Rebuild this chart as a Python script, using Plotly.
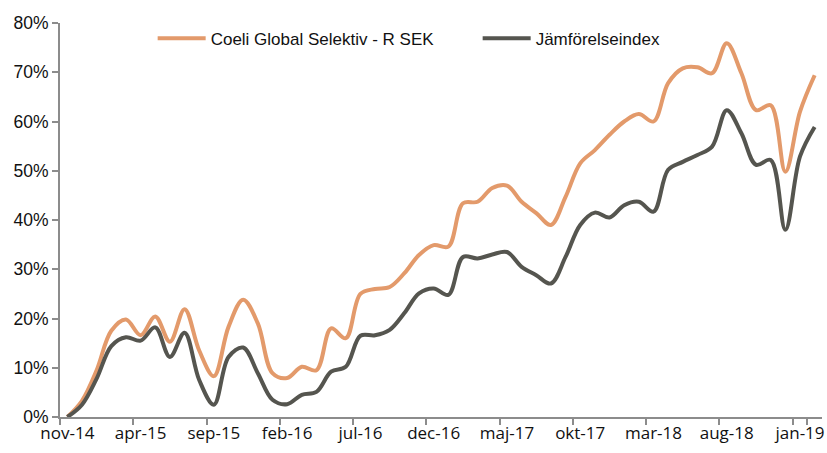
import plotly.graph_objects as go

months_sv = ["jan", "feb", "mar", "apr", "maj", "jun", "jul", "aug", "sep", "okt", "nov", "dec"]
categories = []
m, y = 10, 14
for _ in range(52):
    categories.append(f"{months_sv[m]}-{y:02d}")
    m += 1
    if m == 12:
        m = 0
        y += 1

tick_labels = categories[::5]

coeli = [0.0, 3.3, 9.5, 17.5, 19.8, 16.6, 20.4, 15.3, 21.9, 13.5,
         8.3, 18.3, 23.8, 19.0, 8.9, 7.9, 10.2, 9.5, 18.0, 16.0,
         25.0, 26.0, 26.4, 29.2, 32.9, 34.9, 34.6, 43.4, 43.7, 46.5,
         47.0, 43.7, 41.4, 39.0, 44.7, 51.5, 54.2, 57.3, 60.0, 61.5,
         60.0, 67.8, 70.8, 71.0, 69.8, 75.9, 69.8, 62.3, 63.3, 49.8,
         62.0, 69.4]

index = [0.0, 2.5, 7.8, 14.4, 16.2, 15.5, 18.2, 12.2, 17.1, 7.5,
         2.5, 12.2, 14.1, 8.9, 3.5, 2.6, 4.5, 5.1, 9.2, 10.2,
         16.5, 16.6, 17.7, 21.1, 25.1, 26.1, 24.8, 32.5, 32.2, 33.0,
         33.5, 30.5, 28.8, 27.1, 32.5, 39.0, 41.5, 40.5, 43.0, 43.7,
         41.7, 50.2, 51.8, 53.2, 54.9, 62.3, 57.6, 51.2, 52.2, 38.0,
         52.9, 58.9]

fig = go.Figure()
fig.add_trace(go.Scatter(
    x=categories, y=[v / 100 for v in coeli], mode="lines",
    name="Coeli Global Selektiv - R SEK",
    line=dict(color="#E39A6B", width=4, shape="spline", smoothing=1),
))
fig.add_trace(go.Scatter(
    x=categories, y=[v / 100 for v in index], mode="lines",
    name="Jämförelseindex",
    line=dict(color="#55554F", width=4, shape="spline", smoothing=1),
))

fig.update_layout(
    width=827, height=453,
    margin=dict(l=60, r=5, t=23, b=36, autoexpand=False),
    paper_bgcolor="white", plot_bgcolor="white",
    showlegend=True,
    legend=dict(
        orientation="h", x=0.1216, y=0.96, xanchor="left", yanchor="middle",
        font=dict(family="Liberation Sans, Arial", size=17, color="#111"),
        bgcolor="rgba(0,0,0,0)", itemwidth=48, entrywidth=262,
    ),
)
fig.update_xaxes(
    type="category", range=[-0.5, 51.5], automargin=False,
    tickmode="array", tickvals=tick_labels, ticktext=tick_labels,
    tickson="boundaries", tickangle=0,
    showline=True, linecolor="#8C8C8C", linewidth=2,
    ticks="outside", ticklen=6, tickwidth=2, tickcolor="#8C8C8C",
    showgrid=False, zeroline=False,
    tickfont=dict(family="Open Sans", size=17, color="#111"),
)
fig.update_yaxes(
    range=[0, 0.8], dtick=0.1, tick0=0, tickformat=".0%", automargin=False,
    showline=True, linecolor="#8C8C8C", linewidth=2,
    ticks="outside", ticklen=6, tickwidth=2, tickcolor="#8C8C8C",
    showgrid=False, zeroline=False,
    tickfont=dict(family="Liberation Sans, Arial", size=17.5, color="#111"),
)

fig.write_html("out.html", config={"displayModeBar": False},
               post_script="document.body.style.margin='0';")
